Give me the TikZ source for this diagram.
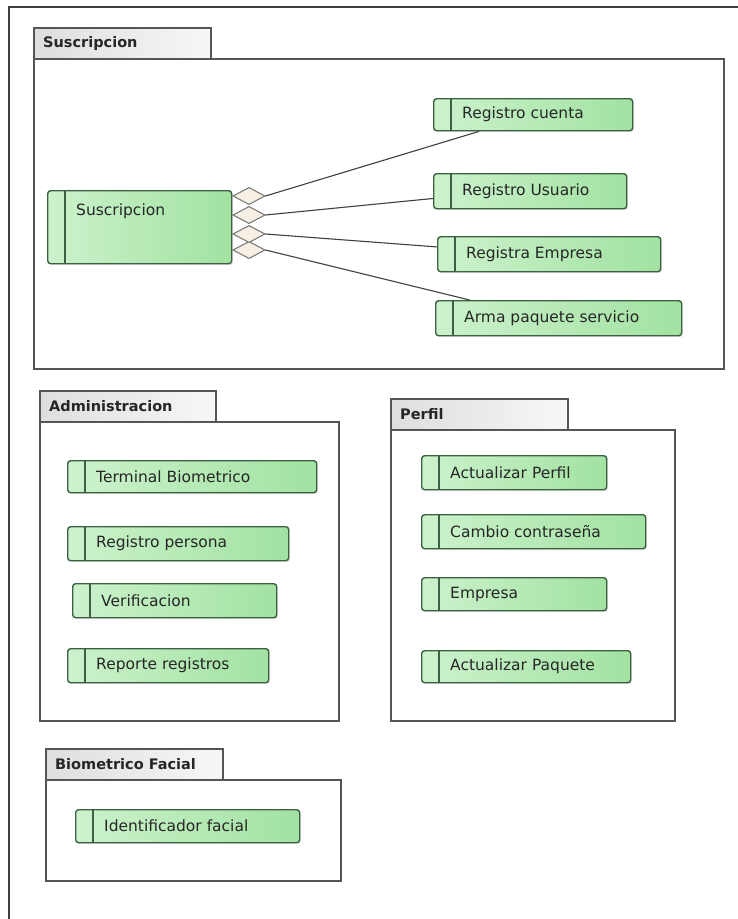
\documentclass[tikz,border=0pt]{standalone}
\usepackage{fontspec}
\setmainfont{DejaVu Sans}
\usetikzlibrary{shapes.geometric,shadows,calc}

\definecolor{ucline}{HTML}{3B6142}
\definecolor{ucA}{HTML}{CCF2CC}
\definecolor{ucB}{HTML}{A2E2A2}
\definecolor{pkgline}{HTML}{555555}
\definecolor{tabA}{HTML}{DEDEDE}
\definecolor{tabB}{HTML}{F7F7F7}
\definecolor{dmdfill}{HTML}{F6F0E4}
\definecolor{dmdline}{HTML}{777777}

\tikzset{
  uc/.style={draw=ucline, line width=1.4pt, rounded corners=3pt,
    left color=ucA, right color=ucB, anchor=north west, inner sep=0pt,
    drop shadow={shadow xshift=1.5pt, shadow yshift=-1.5pt, opacity=.18},
    path picture={\draw[ucline, line width=2.4pt]
      ([xshift=17pt]path picture bounding box.north west) --
      ([xshift=17pt]path picture bounding box.south west);}},
  uctext/.style={anchor=west, inner sep=0pt, text=black!85,
    font=\fontsize{15.5}{18}\selectfont},
  pkgbody/.style={draw=pkgline, line width=1.5pt, fill=white,
    anchor=north west, inner sep=0pt,
    drop shadow={shadow xshift=1.5pt, shadow yshift=-1.5pt, opacity=.2}},
  pkgtab/.style={draw=pkgline, line width=1.5pt, left color=tabA,
    right color=tabB, anchor=north west, inner sep=0pt,
    minimum height=31pt},
  pkgtitle/.style={anchor=west, inner sep=0pt, text=black!85,
    font=\fontsize{14.5}{17}\selectfont\bfseries},
  dmd/.style={diamond, draw=dmdline, fill=dmdfill, line width=0.9pt,
    minimum width=32pt, minimum height=17pt, inner sep=0pt},
  assoc/.style={draw=black!75, line width=1.1pt},
  frame/.style={draw=black!75, line width=1.5pt}
}

% use case: name, x, y, width, height, label
\newcommand\usecase[6]{%
  \node[uc, minimum width=#4pt, minimum height=#5pt] (#1) at (#2,#3) {};
  \node[uctext] (#1-t) at ([xshift=29pt]#1.west) {#6};}

% package: name, x, tab top, tab width, body width, body height, title
\newcommand\pkg[7]{%
  \node[pkgbody, minimum width=#5pt, minimum height=#6pt] (#1) at (#2,#3+31) {};
  \node[pkgtab, minimum width=#4pt] (#1-tab) at (#2,#3) {};
  \node[pkgtitle] (#1-title) at ([xshift=10pt]#1-tab.west) {#7};}

\begin{document}
\begin{tikzpicture}[x=1pt,y=-1pt]
\useasboundingbox[fill=white] (0,0) rectangle (738,919);

% outer frame
\coordinate (f-tr) at (738,7);
\coordinate (f-tl) at (9,7);
\coordinate (f-bl) at (9,919);
\draw[frame] (f-tr) -- (f-tl) -- (f-bl);

% packages
\pkg{susc}{33}{27}{177}{690}{310}{Suscripcion}
\pkg{admin}{39}{390}{176}{299}{299}{Administracion}
\pkg{perf}{390}{398}{177}{284}{291}{Perfil}
\pkg{bio}{45}{748}{177}{295}{101}{Biometrico Facial}

% Suscripcion package
\node[uc, minimum width=184pt, minimum height=73pt] (sus) at (47,190) {};
\node[uctext] (sus-t) at (76,211) {Suscripcion};
\usecase{rc}{433}{98}{199}{32}{Registro cuenta}
\usecase{ru}{433}{173}{193}{35}{Registro Usuario}
\usecase{re}{437}{236}{223}{35}{Registra Empresa}
\usecase{ap}{435}{300}{246}{35}{Arma paquete servicio}

\node[dmd] (d1) at (249,196) {};
\node[dmd] (d2) at (249,215) {};
\node[dmd] (d3) at (249,234) {};
\node[dmd] (d4) at (249,250) {};
\draw[assoc] (d1.east) -- ($(rc.south west)!0.23!(rc.south east)$);
\draw[assoc] (d2.east) -- ($(ru.north west)!0.7!(ru.south west)$);
\draw[assoc] (d3.east) -- ($(re.north west)!0.3!(re.south west)$);
\draw[assoc] (d4.east) -- ($(ap.north west)!0.14!(ap.north east)$);
\node[dmd] at (d4) {};
\node[dmd] at (d3) {};
\node[dmd] at (d2) {};
\node[dmd] at (d1) {};

% Administracion package
\usecase{tb}{67}{460}{249}{32}{Terminal Biometrico}
\usecase{rp}{67}{526}{221}{34}{Registro persona}
\usecase{ve}{72}{583}{204}{34}{Verificacion}
\usecase{rr}{67}{648}{201}{34}{Reporte registros}

% Perfil package
\usecase{af}{421}{455}{185}{34}{Actualizar Perfil}
\usecase{cc}{421}{514}{224}{34}{Cambio contraseña}
\usecase{em}{421}{577}{185}{33}{Empresa}
\usecase{aq}{421}{650}{209}{32}{Actualizar Paquete}

% Biometrico Facial package
\usecase{idf}{75}{809}{224}{33}{Identificador facial}
\end{tikzpicture}
\end{document}
